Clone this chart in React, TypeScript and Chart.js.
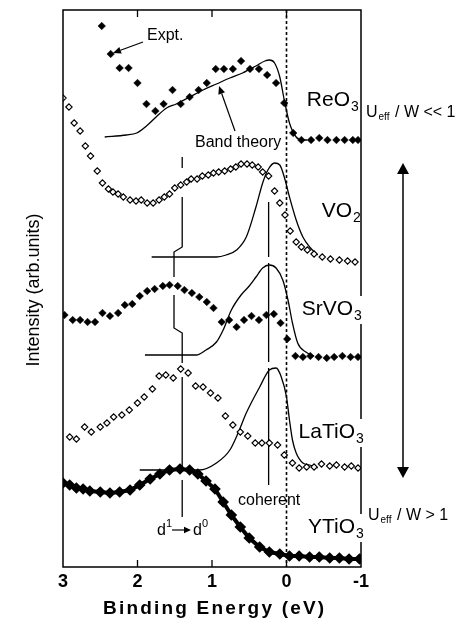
import React, { useEffect, useRef } from "react";
import { Chart, registerables } from "chart.js";

Chart.register(...registerables);

const FONT = "'Liberation Sans', Arial, Helvetica, sans-serif";

// ---------------- data (binding energy in eV, intensity in arb. units) ----------------
const xTickValues = [3, 2, 1, 0, -1];
const innerTickValues = [2, 1, 0];

const reo3ExptE = [2.48, 2.36, 2.24, 2.12, 2.0, 1.88, 1.76, 1.65, 1.53, 1.42, 1.3, 1.18, 1.07, 0.95, 0.84, 0.72, 0.61, 0.49, 0.37, 0.26, 0.14, 0.03, -0.09, -0.2, -0.33, -0.44, -0.55, -0.67, -0.78, -0.89, -0.96];
const reo3ExptI = [541, 513, 499, 499, 484, 463, 456, 463, 477, 463, 470, 477, 484, 498, 498, 498, 506, 498, 498, 492, 484, 464, 434, 427, 427, 429, 427, 427, 427, 427, 427];
const reo3TheoryE = [2.44, 2.15, 2.01, 1.88, 1.75, 1.61, 1.48, 1.3, 1.12, 0.94, 0.76, 0.59, 0.41, 0.29, 0.23, 0.16, 0.09, 0.03, -0.04, -0.13, -0.21, -0.28];
const reo3TheoryI = [430, 432, 434, 441, 450, 459, 463, 470, 477, 483, 489, 494, 501, 506, 507, 504, 490, 467, 444, 430, 427, 427];

const vo2ExptE = [3.0, 2.92, 2.85, 2.77, 2.7, 2.63, 2.54, 2.47, 2.39, 2.33, 2.26, 2.19, 2.1, 2.02, 1.95, 1.87, 1.79, 1.71, 1.64, 1.57, 1.5, 1.42, 1.34, 1.28, 1.2, 1.13, 1.05, 0.98, 0.91, 0.83, 0.75, 0.68, 0.61, 0.53, 0.46, 0.38, 0.32, 0.24, 0.16, 0.09, 0.02, -0.05, -0.13, -0.2, -0.28, -0.37, -0.48, -0.59, -0.71, -0.82, -0.92];
const vo2ExptI = [469, 460, 444, 436, 421, 411, 396, 384, 378, 375, 373, 370, 367, 366, 367, 364, 364, 367, 370, 373, 379, 382, 385, 388, 388, 391, 392, 394, 395, 396, 398, 400, 403, 403, 402, 400, 395, 391, 376, 364, 352, 336, 325, 320, 317, 313, 310, 308, 307, 306, 305];
const vo2TheoryE = [1.81, 0.94, 0.81, 0.67, 0.54, 0.41, 0.32, 0.25, 0.16, 0.09, 0.03, -0.04, -0.13, -0.22, -0.31, -0.42];
const vo2TheoryI = [310, 310, 312, 317, 330, 360, 384, 397, 404, 402, 390, 370, 347, 330, 320, 312];

const srvo3ExptE = [2.98, 2.87, 2.77, 2.67, 2.57, 2.47, 2.37, 2.26, 2.17, 2.07, 1.97, 1.87, 1.77, 1.66, 1.57, 1.46, 1.37, 1.27, 1.17, 1.07, 0.98, 0.87, 0.77, 0.67, 0.57, 0.47, 0.37, 0.27, 0.17, 0.08, -0.01, -0.12, -0.22, -0.32, -0.43, -0.54, -0.64, -0.75, -0.86, -0.96];
const srvo3ExptI = [252, 247, 247, 245, 245, 254, 251, 254, 262, 263, 271, 276, 278, 281, 282, 281, 277, 274, 270, 265, 259, 245, 247, 240, 247, 251, 247, 252, 253, 244, 228, 211, 210, 211, 210, 209, 210, 211, 210, 210];
const srvo3TheoryE = [1.9, 1.21, 1.08, 0.94, 0.85, 0.74, 0.61, 0.5, 0.41, 0.32, 0.23, 0.14, 0.05, -0.02, -0.08, -0.15, -0.26, -0.37];
const srvo3TheoryI = [212, 212, 217, 225, 237, 257, 272, 281, 290, 299, 302, 299, 287, 267, 244, 224, 215, 211];

const latio3ExptE = [2.91, 2.82, 2.71, 2.62, 2.5, 2.41, 2.32, 2.21, 2.11, 2.0, 1.91, 1.8, 1.71, 1.62, 1.52, 1.42, 1.32, 1.22, 1.12, 1.02, 0.92, 0.82, 0.72, 0.62, 0.52, 0.42, 0.33, 0.23, 0.12, 0.03, -0.08, -0.17, -0.27, -0.37, -0.47, -0.58, -0.67, -0.78, -0.87, -0.96];
const latio3ExptI = [130, 128, 140, 135, 140, 144, 150, 152, 157, 164, 170, 178, 191, 192, 189, 198, 194, 181, 180, 174, 169, 151, 142, 135, 131, 124, 124, 124, 122, 112, 104, 99, 100, 100, 103, 101, 102, 100, 101, 99];
const latio3TheoryE = [1.97, 1.17, 0.94, 0.76, 0.65, 0.54, 0.36, 0.23, 0.14, 0.07, 0.0, -0.04, -0.08, -0.13, -0.22, -0.31, -0.42];
const latio3TheoryI = [97, 97, 104, 117, 134, 154, 180, 197, 199, 190, 170, 147, 127, 114, 104, 102, 99];

const ytio3ExptE = [3.0, 2.91, 2.82, 2.73, 2.64, 2.5, 2.37, 2.24, 2.1, 1.97, 1.83, 1.7, 1.57, 1.43, 1.3, 1.19, 1.08, 0.96, 0.85, 0.74, 0.62, 0.5, 0.36, 0.23, 0.09, -0.04, -0.17, -0.31, -0.44, -0.58, -0.71, -0.84, -0.98];
const ytio3ExptI = [84, 82, 79, 78, 76, 75, 74, 75, 77, 82, 88, 93, 97, 98, 97, 93, 86, 78, 65, 52, 40, 29, 20, 15, 13, 11, 11, 10, 10, 9, 9, 8, 8];

// reference lines: [energy, intensity] segments
const d1d0Segments: number[][][] = [
  [[1.4, 410], [1.4, 399]],
  [[1.4, 370], [1.4, 320], [1.51, 315], [1.51, 290]],
  [[1.51, 272], [1.51, 239], [1.4, 234], [1.4, 204]],
  [[1.4, 190], [1.4, 100]],
  [[1.4, 87], [1.4, 50]],
];
const coherentSegments: number[][][] = [
  [[0.24, 365], [0.24, 310]],
  [[0.24, 304], [0.24, 205]],
  [[0.24, 199], [0.24, 82]],
];
const fermiE = 0;
const intensityMax = 557;

// ---------------- helpers ----------------
const pts = (E: number[], I: number[]) => E.map((e, i) => ({ x: e, y: I[i] }));

const filledSet = (label: string, E: number[], I: number[]) => ({
  label, data: pts(E, I), showLine: false, pointStyle: "rectRot", pointRadius: 3.8,
  pointBackgroundColor: "#000", pointBorderColor: "#000", pointBorderWidth: 0.5, order: 1,
});
const openSet = (label: string, E: number[], I: number[]) => ({
  label, data: pts(E, I), showLine: false, pointStyle: "rectRot", pointRadius: 3.2,
  pointBackgroundColor: "#fff", pointBorderColor: "#000", pointBorderWidth: 1.1, order: 1,
});
const theorySet = (label: string, E: number[], I: number[]) => ({
  label, data: pts(E, I), showLine: true, pointRadius: 0, borderColor: "#000",
  borderWidth: 1.3, cubicInterpolationMode: "monotone", fill: false, order: 2,
});
const segSets = (label: string, segs: number[][][], width: number) =>
  segs.map((s) => ({
    label, data: s.map(([e, v]) => ({ x: e, y: v })), showLine: true, pointRadius: 0,
    borderColor: "#000", borderWidth: width, fill: false, order: 3,
  }));

function arrowTo(ctx: CanvasRenderingContext2D, x1: number, y1: number, x2: number, y2: number, len: number, half: number) {
  const ang = Math.atan2(y2 - y1, x2 - x1);
  const bx = x2 - len * Math.cos(ang), by = y2 - len * Math.sin(ang);
  ctx.beginPath(); ctx.moveTo(x1, y1); ctx.lineTo(bx, by); ctx.stroke();
  ctx.beginPath();
  ctx.moveTo(x2, y2);
  ctx.lineTo(bx + half * Math.sin(ang), by - half * Math.cos(ang));
  ctx.lineTo(bx - half * Math.sin(ang), by + half * Math.cos(ang));
  ctx.closePath(); ctx.fill();
}

const compoundLabels = [
  { main: "ReO", sub: "3", right: 350, y: 106, gap: false },
  { main: "VO", sub: "2", right: 352, y: 217, gap: false },
  { main: "SrVO", sub: "3", right: 353, y: 315, gap: true },
  { main: "LaTiO", sub: "3", right: 355, y: 438, gap: true },
  { main: "YTiO", sub: "3", right: 355, y: 533, gap: true },
];

const decor = {
  id: "decor",
  afterDraw(chart: any) {
    const { ctx, chartArea: a, scales } = chart;
    const x = scales.x;
    ctx.save();
    ctx.strokeStyle = "#000";
    ctx.fillStyle = "#000";
    // frame
    ctx.lineWidth = 1.5;
    ctx.strokeRect(a.left, a.top, a.right - a.left, a.bottom - a.top);
    // inward ticks
    ctx.lineWidth = 1.3;
    for (const v of innerTickValues) {
      const px = x.getPixelForValue(v);
      ctx.beginPath();
      ctx.moveTo(px, a.bottom); ctx.lineTo(px, a.bottom - 7);
      ctx.moveTo(px, a.top); ctx.lineTo(px, a.top + 7);
      ctx.stroke();
    }
    // compound labels
    ctx.textBaseline = "alphabetic";
    for (const l of compoundLabels) {
      if (l.gap) {
        ctx.fillStyle = "#fff";
        ctx.fillRect(a.right - 3, l.y - 19, 6, 28);
        ctx.fillStyle = "#000";
      }
      ctx.font = `21px ${FONT}`;
      ctx.textAlign = "right";
      ctx.fillText(l.main, l.right, l.y);
      ctx.font = `14px ${FONT}`;
      ctx.textAlign = "left";
      ctx.fillText(l.sub, l.right + 1, l.y + 5);
    }
    // U_eff / W labels
    const ueff = (xx: number, yy: number, rest: string) => {
      ctx.textAlign = "left";
      ctx.font = `16px ${FONT}`;
      ctx.fillText("U", xx, yy);
      const w = ctx.measureText("U").width;
      ctx.font = `10px ${FONT}`;
      ctx.fillText("eff", xx + w + 1, yy + 3);
      ctx.font = `16px ${FONT}`;
      ctx.fillText(rest, xx + 29, yy);
    };
    ueff(366, 117, "/ W << 1");
    ueff(368, 520, "/ W > 1");
    // double arrow
    ctx.lineWidth = 1.5;
    arrowTo(ctx, 403, 320, 403, 163, 11, 6);
    arrowTo(ctx, 403, 320, 403, 478, 11, 6);
    // annotations
    ctx.lineWidth = 1.2;
    ctx.font = `16px ${FONT}`;
    ctx.fillText("Expt.", 147, 40);
    arrowTo(ctx, 143, 42, 113, 53, 8, 3.5);
    ctx.fillText("Band theory", 195, 147);
    arrowTo(ctx, 235, 131, 219, 86, 8, 3.5);
    ctx.fillText("coherent", 238, 505);
    // d1 -> d0
    ctx.font = `16px ${FONT}`;
    ctx.fillText("d", 157, 535);
    ctx.font = `11px ${FONT}`;
    ctx.fillText("1", 166, 527);
    ctx.lineWidth = 1.2;
    arrowTo(ctx, 172, 530, 191, 530, 7, 3.2);
    ctx.font = `16px ${FONT}`;
    ctx.fillText("d", 193, 535);
    ctx.font = `11px ${FONT}`;
    ctx.fillText("0", 202, 527);
    // axis titles
    ctx.font = `bold 19px ${FONT}`;
    (ctx as any).letterSpacing = "2.2px";
    ctx.fillText("Binding Energy (eV)", 103, 614);
    (ctx as any).letterSpacing = "0px";
    ctx.save();
    ctx.translate(34, 290);
    ctx.rotate(-Math.PI / 2);
    ctx.textAlign = "center";
    ctx.textBaseline = "middle";
    ctx.font = `18px ${FONT}`;
    ctx.fillText("Intensity (arb.units)", 0, 0);
    ctx.restore();
    ctx.restore();
  },
};

export default function App() {
  const ref = useRef<HTMLCanvasElement | null>(null);
  useEffect(() => {
    if (!ref.current) return;
    const datasets: any[] = [
      filledSet("ReO3 expt", reo3ExptE, reo3ExptI),
      openSet("VO2 expt", vo2ExptE, vo2ExptI),
      filledSet("SrVO3 expt", srvo3ExptE, srvo3ExptI),
      openSet("LaTiO3 expt", latio3ExptE, latio3ExptI),
      {
        label: "YTiO3 expt", data: pts(ytio3ExptE, ytio3ExptI), showLine: true,
        borderColor: "#000", borderWidth: 4, pointStyle: "rectRot", pointRadius: 3,
        pointBackgroundColor: "#000", pointBorderColor: "#000", fill: false, order: 1,
      },
      theorySet("ReO3 theory", reo3TheoryE, reo3TheoryI),
      theorySet("VO2 theory", vo2TheoryE, vo2TheoryI),
      theorySet("SrVO3 theory", srvo3TheoryE, srvo3TheoryI),
      theorySet("LaTiO3 theory", latio3TheoryE, latio3TheoryI),
      ...segSets("d1-d0", d1d0Segments, 1.3),
      ...segSets("coherent", coherentSegments, 1.3),
      {
        label: "EF", data: [{ x: fermiE, y: intensityMax }, { x: fermiE, y: 0 }], showLine: true,
        pointRadius: 0, borderColor: "#000", borderWidth: 1.6, borderDash: [3, 2.5], fill: false, order: 3,
      },
    ];
    const chart = new Chart(ref.current, {
      type: "scatter",
      data: { datasets },
      options: {
        animation: false,
        responsive: false,
        maintainAspectRatio: false,
        devicePixelRatio: 1,
        events: [],
        layout: { padding: { left: 63, right: 102, top: 10, bottom: 0 } },
        plugins: { legend: { display: false }, tooltip: { enabled: false } },
        scales: {
          x: {
            type: "linear", reverse: true, min: -1, max: 3,
            grid: { display: false, drawTicks: false },
            border: { display: false },
            afterFit: (s: any) => { s.height = 53; },
            afterBuildTicks: (s: any) => { s.ticks = xTickValues.map((v) => ({ value: v })); },
            ticks: {
              color: "#000", padding: 4,
              font: { family: FONT, size: 18, weight: "bold" },
              callback: (v: any) => String(v),
            },
          },
          y: { type: "linear", display: false, min: 0, max: intensityMax },
        },
      } as any,
      plugins: [decor],
    });
    return () => chart.destroy();
  }, []);
  return (
    <div style={{ position: "fixed", left: 0, top: 0, width: 463, height: 620, background: "#fff" }}>
      <canvas ref={ref} width={463} height={620} style={{ display: "block" }} />
    </div>
  );
}
